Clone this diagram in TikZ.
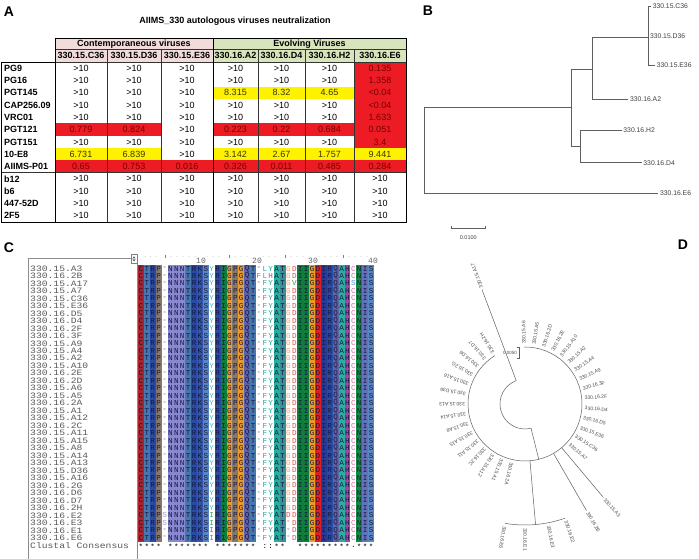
\documentclass[tikz,border=0pt]{standalone}
\usepackage{fontspec}
\setmainfont{Liberation Sans}
\newfontfamily\monofont{Liberation Mono}
\usetikzlibrary{calc}
\newcommand\setfs[1]{\fontsize{#1}{#1}\selectfont}
% table colours
\definecolor{hdpink}{RGB}{242,220,219}
\definecolor{hdgreen}{RGB}{216,228,188}
\definecolor{cellr}{RGB}{237,28,36}
\definecolor{celly}{RGB}{255,242,0}
\definecolor{cellw}{RGB}{255,255,255}
\definecolor{txtr}{RGB}{115,0,0}
\definecolor{txty}{RGB}{55,55,0}
\definecolor{txtw}{RGB}{0,0,0}
\definecolor{treeln}{RGB}{95,95,95}
% residue colours
\definecolor{cC}{RGB}{170,35,45}
\definecolor{cT}{RGB}{70,120,175}
\definecolor{cR}{RGB}{40,75,165}
\definecolor{cP}{RGB}{135,120,110}
\definecolor{cN}{RGB}{135,135,210}
\definecolor{cK}{RGB}{50,85,170}
\definecolor{cS}{RGB}{90,135,195}
\definecolor{cI}{RGB}{15,125,60}
\definecolor{cG}{RGB}{235,155,40}
\definecolor{cQ}{RGB}{95,100,170}
\definecolor{cA}{RGB}{40,175,160}
\definecolor{cT2}{RGB}{55,145,150}
\definecolor{cD}{RGB}{225,30,35}
\definecolor{cI2}{RGB}{40,60,150}
\definecolor{cH}{RGB}{160,70,170}
\definecolor{cN2}{RGB}{20,135,70}
\definecolor{cI3}{RGB}{100,115,185}
\definecolor{ink}{RGB}{25,25,60}
\definecolor{gapc}{RGB}{90,90,130}
\definecolor{fY}{RGB}{60,185,205}
\definecolor{fF}{RGB}{40,165,150}
\definecolor{fG}{RGB}{240,160,110}
\definecolor{fD}{RGB}{225,80,80}
\definecolor{fC}{RGB}{215,110,170}
\definecolor{fH}{RGB}{170,70,180}
\definecolor{fV}{RGB}{60,150,90}
\definecolor{fS}{RGB}{90,140,200}
\definecolor{fS2}{RGB}{150,155,215}
\definecolor{fI}{RGB}{60,160,90}
\newcommand\resnode[4]{\node[res,text=#4] (s-#1-#2) at ({138+(#2-0.5)*5.9},{268.5+(#1-1)*7.48}) {#3};}
\newcommand\exres[4]{\expandafter\def\csname ex-#1-#2\endcsname{\resnode{#1}{#2}{#3}{#4}}}
\exres{1}{22}{L}{fF}
\exres{2}{21}{F}{fF}
\exres{2}{22}{L}{fF}
\exres{2}{23}{H}{fH}
\exres{3}{27}{V}{fV}
\exres{3}{37}{S}{fS}
\exres{34}{5}{S}{fS2}
\exres{35}{5}{S}{fS2}
\exres{34}{13}{I}{fI}
\exres{35}{13}{I}{fI}
\exres{36}{13}{I}{fI}
\exres{37}{13}{I}{fI}
\exres{34}{26}{D}{fD}
\exres{35}{26}{-}{gapc}
\exres{36}{26}{-}{gapc}
\exres{37}{26}{-}{gapc}
\tikzset{
  panel/.style={font=\bfseries\setfs{14}, inner sep=0pt},
  tabtxt/.style={font=\setfs{9}, inner sep=0pt},
  hdr/.style={font=\bfseries\setfs{9}, inner sep=0pt},
  rowlab/.style={font=\bfseries\setfs{9}, anchor=west, inner sep=0pt},
  gridin/.style={draw=black!80, line width=0.6pt},
  gridout/.style={draw=black, line width=0.8pt},
  tree/.style={draw=treeln, line width=0.5pt},
  leafB/.style={anchor=west, font=\setfs{6.8}, text=black!75, inner sep=1.5pt},
  leafD/.style={anchor=west, font=\setfs{5}, text=black!70, inner sep=0.8pt},
  res/.style={font=\monofont\setfs{7.6}, inner sep=0pt},
  seqname/.style={font=\monofont\setfs{8.2}, xscale=1.18, text=black!65, anchor=west, inner sep=0pt},
  ruler/.style={font=\monofont\setfs{8}, text=black!60, inner sep=0pt},
}
\begin{document}
\begin{tikzpicture}[x=1pt,y=-1pt]
\fill[white] (0,0) rectangle (699,559);
\useasboundingbox (0,0) rectangle (699,559);

% ================= Panel A =================
\node[panel] (lA) at (9,12) {A};
\node[hdr] (title) at (235,21) {AIIMS\_330 autologous viruses neutralization};
\fill[hdpink] (55,38) rectangle (213,62);
\fill[hdgreen] (213,38) rectangle (406,62);
\node[hdr] (hcont) at (134,43.8) {Contemporaneous viruses};
\node[hdr] (hevol) at (309.5,43.8) {Evolving Viruses};
\foreach \nm/\xc [count=\k] in {330.15.C36/81, 330.15.D36/134, 330.15.E36/187, 330.16.A2/235.5, 330.16.D4/281.5, 330.16.H2/329.5, 330.16.E6/380}
  \node[hdr] (strain\k) at (\xc,55.8) {\nm};

\foreach \ri/\lab/\cells in {
 1/PG9/{w/>10,w/>10,w/>10,w/>10,w/>10,w/>10,r/0.135},
 2/PG16/{w/>10,w/>10,w/>10,w/>10,w/>10,w/>10,r/1.358},
 3/PGT145/{w/>10,w/>10,w/>10,y/8.315,y/8.32,y/4.65,r/<0.04},
 4/CAP256.09/{w/>10,w/>10,w/>10,w/>10,w/>10,w/>10,r/<0.04},
 5/VRC01/{w/>10,w/>10,w/>10,w/>10,w/>10,w/>10,r/1.633},
 6/PGT121/{r/0.779,r/0.824,w/>10,r/0.223,r/0.22,r/0.684,r/0.051},
 7/PGT151/{w/>10,w/>10,w/>10,w/>10,w/>10,w/>10,r/3.4},
 8/10-E8/{y/6.731,y/6.839,w/>10,y/3.142,y/2.67,y/1.757,y/9.441},
 9/AIIMS-P01/{r/0.65,r/0.753,r/0.016,r/0.326,r/0.011,r/0.485,r/0.284},
 10/b12/{w/>10,w/>10,w/>10,w/>10,w/>10,w/>10,w/>10},
 11/b6/{w/>10,w/>10,w/>10,w/>10,w/>10,w/>10,w/>10},
 12/447-52D/{w/>10,w/>10,w/>10,w/>10,w/>10,w/>10,w/>10},
 13/2F5/{w/>10,w/>10,w/>10,w/>10,w/>10,w/>10,w/>10}}{
  \node[rowlab] (lab\ri) at (4,{62+(\ri-0.5)*12.3}) {\lab};
  \foreach \cf/\cv [count=\ci] in \cells {
    \pgfmathsetmacro\xa{{55,107,161,213,258,305,354,406}[\ci-1]}
    \pgfmathsetmacro\xb{{55,107,161,213,258,305,354,406}[\ci]}
    \fill[cell\cf] (\xa,{62+(\ri-1)*12.3}) rectangle (\xb,{62+\ri*12.3});
    \node[tabtxt,text=txt\cf] (v\ri-\ci) at ({(\xa+\xb)/2},{62+(\ri-0.5)*12.3}) {\cv};
  }
}
% grid
\foreach \xx in {107,161,258,305,354}
  \draw[gridin] (\xx,49.5) -- (\xx,222);
\draw[gridin] (55,49.5) -- (406,49.5);
\draw[gridin] (1,172.7) -- (406,172.7);
\draw[gridin] (1,62) -- (406,62);
\draw[gridout] (213,38) -- (213,222);
\draw[gridout] (55,38) -- (406,38) -- (406,222) -- (1,222) -- (1,62) -- (55,62);
\draw[gridout] (55,38) -- (55,222);

% ================= Panel B =================
\node[panel] (lB) at (428,11) {B};
\draw[tree] (424.3,107.3) -- (424.3,193.3);
\draw[tree] (424.3,107.3) -- (571.7,107.3);
\draw[tree] (424.3,193.3) -- (658.3,193.3) node[leafB] (bE6) {330.16.E6};
\draw[tree] (571.7,69) -- (571.7,146) -- (580,146);
\draw[tree] (580,130) -- (580,162.7);
\draw[tree] (580,130) -- (621.7,130) node[leafB] (bH2) {330.16.H2};
\draw[tree] (580,162.7) -- (641.7,162.7) node[leafB] (bD4) {330.16.D4};
\draw[tree] (571.7,69) -- (592.3,69);
\draw[tree] (592.3,37.7) -- (592.3,99.3);
\draw[tree] (592.3,99.3) -- (628.3,99.3) node[leafB] (bA2) {330.16.A2};
\draw[tree] (592.3,37.7) -- (648.3,37.7);
\draw[tree] (648.3,6) -- (648.3,65);
\draw[tree] (648.3,6) -- (651,6) node[leafB] (bC36) {330.15.C36};
\node[leafB] (bD36) at (648.3,35.7) {330.15.D36};
\draw[tree] (648.3,65) -- (655,65) node[leafB] (bE36) {330.15.E36};
\draw[tree] (451.7,225.5) -- (451.7,228.3) -- (485,228.3) -- (485,225.5);
\node[font=\setfs{5.5}, text=black!75, inner sep=0pt] (bscale) at (468.3,238) {0.0100};

% ================= Panel C =================
\node[panel] (lC) at (9,247.5) {C};
\draw[black!45, line width=0.5pt] (28.3,559) -- (28.3,258) -- (131,258);
\draw[black!45, line width=0.5pt] (137.5,263) -- (137.5,559);
\draw[black!50, line width=0.4pt] (131,254.5) rectangle (137,263);
\fill[black!60] (132.4,258.3) -- (135.6,258.3) -- (134,256.2) -- cycle;
\fill[black!60] (132.4,259.4) -- (135.6,259.4) -- (134,261.5) -- cycle;
\foreach \xx in {145,150.5,156,171,177,183,189,195,207,213,219,235,241,247,263,269,275,291,297,303,319,325,331,337,349,355,361,367}
  \fill[black!35] (\xx,256.5) circle (0.35);
\foreach \xx [count=\k] in {165,229,285,343}
  \draw[black!50, line width=0.5pt] (\xx,254.5) -- (\xx,257.5);
\foreach \lb/\xx in {10/201,20/257,30/313,40/373}
  \node[ruler] (rul\lb) at (\xx,261) {\lb};

\foreach \nm [count=\ri] in {330.15.A3,330.16.2B,330.15.A17,330.15.A7,330.15.C36,330.15.E36,330.16.D5,330.16.D4,330.16.2F,330.16.3F,330.15.A9,330.15.A4,330.15.A2,330.15.A10,330.16.2E,330.16.2D,330.15.A6,330.15.A5,330.16.2A,330.15.A1,330.15.A12,330.16.2C,330.15.A11,330.15.A15,330.15.A8,330.15.A14,330.15.A13,330.15.D36,330.15.A16,330.16.2G,330.16.D6,330.16.D7,330.16.2H,330.16.E2,330.16.E3,330.16.E1,330.16.E6}
  \node[seqname] (nm\ri) at (30,{268.5+(\ri-1)*7.48}) {\nm};
\node[seqname] (nmcons) at (30,545.3) {Clustal Consensus};

\foreach \ci/\resB/\resL/\resF in {1/cC/C/ink,2/cT/T/ink,3/cR/R/ink,4/cP/P/ink,5/white/-/gapc,
  6/cN/N/ink,7/cN/N/ink,8/cN/N/ink,9/cT/T/ink,10/cR/R/ink,11/cK/K/ink,12/cS/S/ink,13/white/Y/fY,
  14/cR/R/ink,15/cI/I/ink,16/cG/G/ink,17/cP/P/ink,18/cG/G/ink,19/cQ/Q/ink,20/cT/T/ink,
  21/white/-/gapc,22/white/F/fF,23/white/Y/fF,24/cA/A/ink,25/cT2/T/ink,26/white/G/fG,27/white/D/fD,
  28/cI/I/ink,29/cI/I/ink,30/cG/G/ink,31/cD/D/ink,32/cI2/I/ink,33/cR/R/ink,34/cQ/Q/ink,
  35/cA/A/ink,36/cH/H/ink,37/white/C/fC,38/cN2/N/ink,39/cI3/I/ink,40/cS/S/ink}{
  \fill[\resB] ({138+(\ci-1)*5.9},264.76) rectangle ({138+\ci*5.9},541.5);
  \foreach \ri in {1,...,37}{
    \ifcsname ex-\ri-\ci\endcsname
      \csname ex-\ri-\ci\endcsname
    \else
      \resnode{\ri}{\ci}{\resL}{\resF}
    \fi
  }
}
\foreach \ci/\sym in {1/*,2/*,3/*,4/*,6/*,7/*,8/*,9/*,10/*,11/*,12/*,14/*,15/*,16/*,17/*,18/*,19/*,20/*,
  22/:,23/:,24/*,25/*,28/*,29/*,30/*,31/*,32/*,33/*,34/*,35/*,36/*,37/.,38/*,39/*,40/*}
  \node[res,text=black] (cons\ci) at ({138+(\ci-0.5)*5.9},546.5) {\sym};

% ================= Panel D =================
\node[panel] (lD) at (683,245) {D};
\coordinate (Dc) at (525,404);
\draw[tree] ($(Dc)+(-91:57)$) arc[start angle=-91, end angle=238, radius=57];
\draw[tree] ($(Dc)+(76:25)$) arc[start angle=76, end angle=249.4, radius=25];
\draw[tree] ($(Dc)+(76:25)$) -- ($(Dc)+(76:57)$);
\draw[tree] ($(Dc)+(249.4:25)$) -- ($(Dc)+(249.4:122)$);
\node[leafD, rotate=-249.4] (dA17) at ($(Dc)+(249.4:123)$) {330.15.A17};
\draw[tree] ($(Dc)+(85:57)$) -- ($(Dc)+(85:121)$);
\draw[tree] ($(Dc)+(70.7:121)$) arc[start angle=70.7, end angle=99.5, radius=121];
\draw[tree] ($(Dc)+(60:57)$) -- ($(Dc)+(60:123)$);
\draw[tree] ($(Dc)+(50:57)$) -- ($(Dc)+(50:122)$);
\node[leafD, rotate=-60] (d2B) at ($(Dc)+(60:124)$) {330.16.2B};
\node[leafD, rotate=-50] (dA3) at ($(Dc)+(50:123)$) {330.15.A3};
\foreach \nm/\ang in {330.16.E2/70.7, 330.16.E3/79, 330.16.E1/90, 330.16.E6/99.5}
  \node[leafD, rotate=-\ang] (dE-\ang) at ($(Dc)+(\ang:123)$) {\nm};
\foreach \nm [count=\k from 0] in {330.15.A6,330.15.A5,330.16.2D,330.16.2E,330.15.A10,330.15.A2,330.15.A4,330.15.A9,330.16.3F,330.16.2F,330.16.D4,330.16.D5,330.15.E36,330.15.C36,330.15.A7}{
  \pgfmathsetmacro\ang{-91+9.5*\k}
  \pgfmathsetmacro\rang{91-9.5*\k}
  \node[leafD, rotate=\rang] (dr\k) at ($(Dc)+(\ang:59)$) {\nm};
}
\foreach \nm [count=\k from 0] in {330.16.2A,330.15.A1,330.15.A12,330.16.2C,330.15.A11,330.15.A15,330.15.A8,330.15.A14,330.15.A13,330.15.D36,330.15.A16,330.16.2G,330.16.D6,330.16.D7,330.16.2H}{
  \pgfmathsetmacro\ang{103+9.64*\k}
  \pgfmathsetmacro\rang{-103-9.64*\k}
  \node[leafD, rotate=\rang] (dl\k) at ($(Dc)+(\ang:59)$) {\nm};
}
\node[font=\setfs{4.5}, text=black!70, inner sep=0pt] (dscale) at (510,352.5) {0.0050};
\draw[tree] (517,347) -- (519.5,347) -- (519.5,358) -- (517,358);
\end{tikzpicture}
\end{document}
